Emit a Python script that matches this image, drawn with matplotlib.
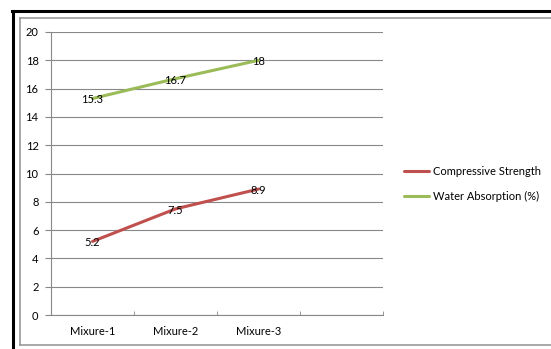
import matplotlib
matplotlib.use("Agg")
import matplotlib.pyplot as plt
from matplotlib.lines import Line2D

categories = ["Mixure-1", "Mixure-2", "Mixure-3"]
compressive = [5.2, 7.5, 8.9]
water = [15.3, 16.7, 18]
series_names = ["Compressive Strength", "Water Absorption (%)"]
yticks = [0, 2, 4, 6, 8, 10, 12, 14, 16, 18, 20]

plt.rcParams['font.family'] = ['Lato', 'DejaVu Sans']
FS = 8

fig = plt.figure(figsize=(5.51, 3.49), dpi=100)
W, H = 551, 349

# outer frames
fig.add_artist(Line2D([12/W, 1], [1-11/H, 1-11/H], color='black', lw=2.2, transform=fig.transFigure))
fig.add_artist(Line2D([13/W, 13/W], [0, 1-11/H], color='black', lw=2.2, transform=fig.transFigure))
fig.add_artist(Line2D([20/W, 1], [1-18/H, 1-18/H], color='#999999', lw=1.2, transform=fig.transFigure))
fig.add_artist(Line2D([20/W, 20/W], [1-345/H, 1-18/H], color='#999999', lw=1.2, transform=fig.transFigure))
fig.add_artist(Line2D([20/W, 1], [1-345/H, 1-345/H], color='#999999', lw=1.2, transform=fig.transFigure))

ax = fig.add_axes([51/W, 1-315/H, (383-51)/W, (315-32)/H])
x = list(range(len(categories)))
red = '#C0504D'
green = '#9BBB59'
l1, = ax.plot(x, compressive, color=red, lw=2.2, solid_capstyle='round')
l2, = ax.plot(x, water, color=green, lw=2.2, solid_capstyle='round')
for xi, v in zip(x, compressive):
    ax.annotate(f"{v:g}", (xi, v), xytext=(0, -1), textcoords='offset points',
                ha='center', va='center', fontsize=FS)
for xi, v in zip(x, water):
    ax.annotate(f"{v:g}", (xi, v), xytext=(0, -1), textcoords='offset points',
                ha='center', va='center', fontsize=FS)

ax.set_xlim(-0.5, 3.5)
ax.set_ylim(0, 20)
ax.set_yticks(yticks)
ax.set_yticklabels([str(t) for t in yticks], fontsize=FS)
ax.set_xticks(x)
ax.set_xticklabels(categories, fontsize=FS)
ax.set_xticks([-0.5, 0.5, 1.5, 2.5, 3.5], minor=True)
ax.tick_params(axis='x', which='major', length=0, pad=8)
ax.tick_params(axis='x', which='minor', length=3, color='#888888', direction='in')
ax.tick_params(axis='y', length=4, color='#888888', direction='out', pad=5)
ax.grid(axis='y', color='#888888', lw=0.8)
ax.set_axisbelow(True)
for s in ['top', 'right']:
    ax.spines[s].set_visible(False)
ax.spines['left'].set_color('#888888')
ax.spines['bottom'].set_color('#888888')
ax.spines['left'].set_linewidth(0.8)
ax.spines['bottom'].set_linewidth(0.8)

fig.legend([l1, l2], series_names, loc='center left', bbox_to_anchor=(394/W, 1-184/H),
           frameon=False, fontsize=FS, handlelength=2.25, handletextpad=0.35, labelspacing=1.2)

fig.savefig("out.png", dpi=100)
